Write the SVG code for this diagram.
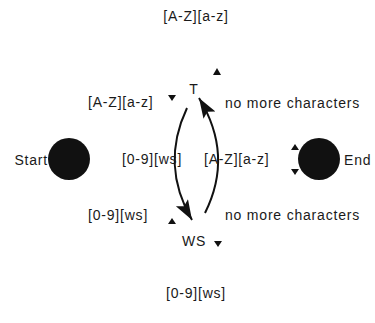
<svg xmlns="http://www.w3.org/2000/svg" width="375" height="323" viewBox="0 0 375 323">
<style>
text{font-family:"Liberation Sans",Arial,sans-serif;font-size:14px;letter-spacing:0.8px;fill:#1a1a1a}
.lbl{text-anchor:middle}
.edge{fill:none;stroke:#111;stroke-width:2}
.tri{fill:#111}
.dot{fill:#111}
</style>
<defs>
<marker id="big" markerUnits="userSpaceOnUse" markerWidth="21" markerHeight="15" refX="20" refY="7" orient="auto">
<path d="M0,0 L20,7 L0,14 L4,7 Z" fill="#111"/>
</marker>
</defs>
<rect width="375" height="323" fill="#fff"/>
<g id="connectors">
<path class="edge" d="M187,108 Q160,165 192,220" marker-end="url(#big)"/>
<path class="edge" d="M205,213 Q234,155 199,98" marker-end="url(#big)"/>
<path class="tri" d="M213,75 L217,68 L221,75 Z"/>
<path class="tri" d="M168,95 L176,95 L172,101 Z"/>
<path class="tri" d="M168,224 L172,218 L176,224 Z"/>
<path class="tri" d="M214,241 L222,241 L218,247 Z"/>
<path class="tri" d="M291,150 L295,144 L299,150 Z"/>
<path class="tri" d="M291,169 L299,169 L295,175 Z"/>
</g>
<g id="start">
<circle class="dot" cx="69" cy="159" r="21"/>
<text x="48" y="165" text-anchor="end">Start</text>
</g>
<g id="end">
<circle class="dot" cx="319" cy="159" r="21"/>
<text x="344" y="165">End</text>
</g>
<g id="T">
<text class="lbl" x="194" y="94">T</text>
</g>
<g id="WS">
<text class="lbl" x="194" y="246">WS</text>
</g>
<g id="labels">
<text class="lbl" x="196" y="21">[A-Z][a-z]</text>
<text class="lbl" x="196" y="298">[0-9][ws]</text>
<text x="88" y="107">[A-Z][a-z]</text>
<text x="225" y="108">no more characters</text>
<text x="122" y="164">[0-9][ws]</text>
<text x="204" y="164">[A-Z][a-z]</text>
<text x="88" y="220">[0-9][ws]</text>
<text x="225" y="220">no more characters</text>
</g>
</svg>
